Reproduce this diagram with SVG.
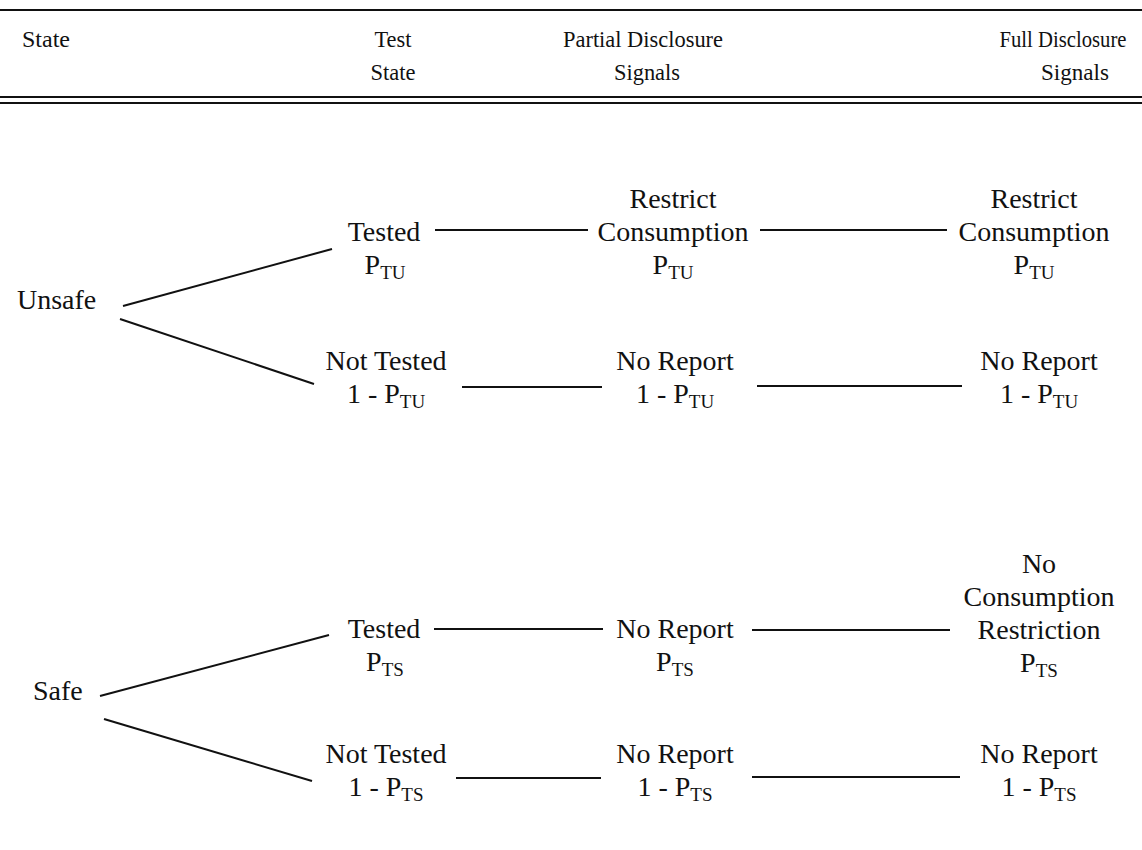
<svg xmlns="http://www.w3.org/2000/svg" width="1142" height="850" viewBox="0 0 1142 850">
<style>
.h{font-family:"Liberation Serif","Times New Roman",serif;font-size:23px;fill:#111}
.t{font-family:"Liberation Serif","Times New Roman",serif;font-size:28px;fill:#111}
.m{text-anchor:middle}
.sub{font-size:19px}
.rule{stroke:#111;stroke-width:2}
.c{stroke:#111;stroke-width:2;fill:none}
</style>
<rect width="1142" height="850" fill="#fff"/>
<g id="header">
<line class="rule" x1="0" y1="10" x2="1142" y2="10"/>
<text class="h" x="22" y="47" textLength="48" lengthAdjust="spacingAndGlyphs">State</text>
<text class="h m" x="393" y="47" textLength="37" lengthAdjust="spacingAndGlyphs">Test</text>
<text class="h m" x="393" y="80" textLength="45" lengthAdjust="spacingAndGlyphs">State</text>
<text class="h m" x="643" y="47" textLength="160" lengthAdjust="spacingAndGlyphs">Partial Disclosure</text>
<text class="h m" x="647" y="80" textLength="66" lengthAdjust="spacingAndGlyphs">Signals</text>
<text class="h m" x="1063" y="47" textLength="127" lengthAdjust="spacingAndGlyphs">Full Disclosure</text>
<text class="h m" x="1075" y="80" textLength="68" lengthAdjust="spacingAndGlyphs">Signals</text>
<line class="rule" x1="0" y1="97" x2="1142" y2="97"/>
<line class="rule" x1="0" y1="103" x2="1142" y2="103"/>
</g>
<g id="connectors">
<line class="c" x1="123" y1="306" x2="332" y2="249"/>
<line class="c" x1="120" y1="319" x2="314" y2="384"/>
<line class="c" x1="435" y1="230" x2="588" y2="230"/>
<line class="c" x1="760" y1="230" x2="947" y2="230"/>
<line class="c" x1="462" y1="387" x2="602" y2="387"/>
<line class="c" x1="757" y1="386" x2="962" y2="386"/>
<line class="c" x1="100" y1="696" x2="329" y2="635"/>
<line class="c" x1="104" y1="719" x2="312" y2="781"/>
<line class="c" x1="434" y1="629" x2="603" y2="629"/>
<line class="c" x1="752" y1="630" x2="950" y2="630"/>
<line class="c" x1="456" y1="778" x2="601" y2="778"/>
<line class="c" x1="752" y1="777" x2="960" y2="777"/>
</g>
<g id="unsafe"><text class="t" x="17" y="309">Unsafe</text></g>
<g id="u-tested"><text class="t m" x="384" y="241">Tested</text><text class="t m" x="385" y="274">P<tspan class="sub" dy="5">TU</tspan></text></g>
<g id="u-nottested"><text class="t m" x="386" y="370">Not Tested</text><text class="t m" x="386" y="403">1 - P<tspan class="sub" dy="5">TU</tspan></text></g>
<g id="u-partial-restrict"><text class="t m" x="673" y="208">Restrict</text><text class="t m" x="673" y="241">Consumption</text><text class="t m" x="673" y="274">P<tspan class="sub" dy="5">TU</tspan></text></g>
<g id="u-partial-noreport"><text class="t m" x="675" y="370">No Report</text><text class="t m" x="675" y="403">1 - P<tspan class="sub" dy="5">TU</tspan></text></g>
<g id="u-full-restrict"><text class="t m" x="1034" y="208">Restrict</text><text class="t m" x="1034" y="241">Consumption</text><text class="t m" x="1034" y="274">P<tspan class="sub" dy="5">TU</tspan></text></g>
<g id="u-full-noreport"><text class="t m" x="1039" y="370">No Report</text><text class="t m" x="1039" y="403">1 - P<tspan class="sub" dy="5">TU</tspan></text></g>
<g id="safe"><text class="t" x="33" y="700">Safe</text></g>
<g id="s-tested"><text class="t m" x="384" y="638">Tested</text><text class="t m" x="385" y="671">P<tspan class="sub" dy="5">TS</tspan></text></g>
<g id="s-nottested"><text class="t m" x="386" y="763">Not Tested</text><text class="t m" x="386" y="796">1 - P<tspan class="sub" dy="5">TS</tspan></text></g>
<g id="s-partial-tested"><text class="t m" x="675" y="638">No Report</text><text class="t m" x="675" y="671">P<tspan class="sub" dy="5">TS</tspan></text></g>
<g id="s-partial-nottested"><text class="t m" x="675" y="763">No Report</text><text class="t m" x="675" y="796">1 - P<tspan class="sub" dy="5">TS</tspan></text></g>
<g id="s-full-tested"><text class="t m" x="1039" y="573">No</text><text class="t m" x="1039" y="606">Consumption</text><text class="t m" x="1039" y="639">Restriction</text><text class="t m" x="1039" y="672">P<tspan class="sub" dy="5">TS</tspan></text></g>
<g id="s-full-nottested"><text class="t m" x="1039" y="763">No Report</text><text class="t m" x="1039" y="796">1 - P<tspan class="sub" dy="5">TS</tspan></text></g>
</svg>
